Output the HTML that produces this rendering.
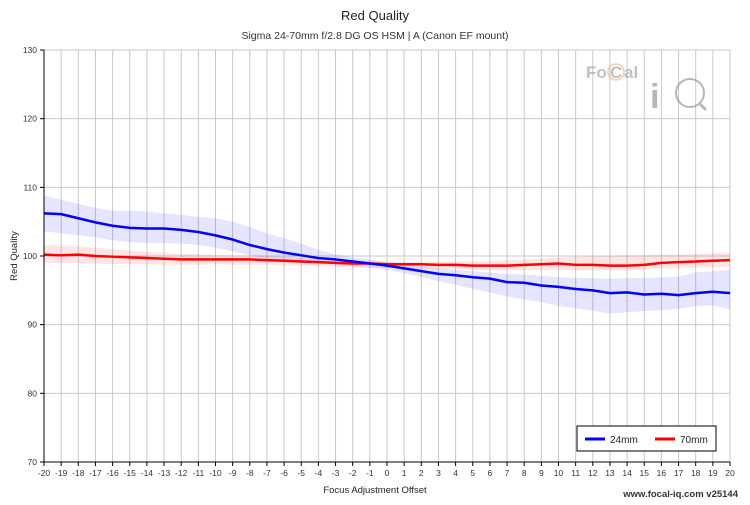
<!DOCTYPE html>
<html><head><meta charset="utf-8"><style>
body{margin:0;background:#fff;font-family:"Liberation Sans",sans-serif}
svg text{font-family:"Liberation Sans",sans-serif}
</style></head><body>
<svg id="c" width="750" height="500">
<text x="375" y="20" text-anchor="middle" font-size="13" fill="#222">Red Quality</text>
<text x="375" y="39" text-anchor="middle" font-size="10.5" fill="#333">Sigma 24-70mm f/2.8 DG OS HSM | A (Canon EF mount)</text>
<g id="grid"></g><g id="bands"></g><g id="lines"></g><g id="axes"></g>
<g opacity="0.6">
<text x="586" y="78" font-size="17" font-weight="bold" fill="#999">Fo</text>
<circle cx="616" cy="72" r="8" fill="none" stroke="#e8b070" stroke-width="1.5"/>
<text x="610" y="78" font-size="17" font-weight="bold" fill="#999">C</text>
<text x="624" y="78" font-size="17" font-weight="bold" fill="#999">al</text>
<text x="650" y="108" font-size="34" font-weight="bold" fill="#888">i</text>
<circle cx="690" cy="93" r="14" fill="none" stroke="#888" stroke-width="2"/>
<line x1="700" y1="104" x2="706" y2="110" stroke="#888" stroke-width="3"/>
</g>
<text x="375" y="493" text-anchor="middle" font-size="9.5" fill="#222">Focus Adjustment Offset</text>
<text transform="translate(17,256) rotate(-90)" text-anchor="middle" font-size="9.5" fill="#222">Red Quality</text>
<text x="738" y="497" text-anchor="end" font-size="9.5" font-weight="bold" fill="#333">www.focal-iq.com  v25144</text>
<g>
<rect x="577" y="426" width="139" height="25" fill="#fff" stroke="#000" stroke-width="1"/>
<g><line x1="585" y1="439" x2="605" y2="439" stroke="#0000ff" stroke-width="3"/><text x="610" y="443" font-size="10" fill="#222">24mm</text></g>
<g><line x1="655" y1="439" x2="675" y2="439" stroke="#ff0000" stroke-width="3"/><text x="680" y="443" font-size="10" fill="#222">70mm</text></g>
</g>
</svg>
<script>
const xTicks=[-20,-19,-18,-17,-16,-15,-14,-13,-12,-11,-10,-9,-8,-7,-6,-5,-4,-3,-2,-1,0,1,2,3,4,5,6,7,8,9,10,11,12,13,14,15,16,17,18,19,20];
const yTicks=[70,80,90,100,110,120,130];
const s24=[106.2,106.1,105.5,104.9,104.4,104.1,104.0,104.0,103.8,103.5,103.0,102.4,101.6,101.0,100.5,100.1,99.7,99.5,99.2,98.9,98.6,98.2,97.8,97.4,97.2,96.9,96.7,96.2,96.1,95.7,95.5,95.2,95.0,94.6,94.7,94.4,94.5,94.3,94.6,94.8,94.6];
const s24hi=[108.8,108.2,107.6,107.0,106.6,106.6,106.5,106.2,106.0,105.7,105.5,105.0,104.2,103.3,102.6,101.8,100.9,100.2,99.8,99.5,99.1,98.8,98.5,98.2,98.0,97.8,97.6,97.4,97.3,97.1,96.9,96.8,96.8,96.7,96.8,96.8,96.9,97.0,97.6,97.8,98.0];
const s24lo=[103.6,103.3,103.0,102.7,102.3,102.0,101.9,101.9,101.8,101.6,101.2,100.7,100.1,99.6,99.3,99.1,98.9,98.7,98.5,98.3,98.0,97.5,96.9,96.3,95.8,95.2,94.7,94.1,93.7,93.3,92.7,92.4,92.0,91.6,91.8,92.0,92.1,92.3,92.7,92.8,92.2];
const s70=[100.2,100.1,100.2,100.0,99.9,99.8,99.7,99.6,99.5,99.5,99.5,99.5,99.5,99.4,99.3,99.2,99.1,99.0,98.9,98.9,98.8,98.8,98.8,98.7,98.7,98.6,98.6,98.6,98.7,98.8,98.9,98.7,98.7,98.6,98.6,98.7,99.0,99.1,99.2,99.3,99.4];
const s70hi=[101.6,101.5,101.4,101.2,101.0,100.8,100.6,100.5,100.3,100.3,100.2,100.1,100.1,100.0,99.9,99.7,99.6,99.5,99.4,99.3,99.2,99.2,99.2,99.2,99.2,99.2,99.3,99.4,99.5,99.6,99.8,99.9,100.0,100.0,100.1,100.1,100.2,100.2,100.3,100.4,100.5];
const s70lo=[99.0,98.9,99.0,98.9,98.8,98.8,98.8,98.7,98.7,98.7,98.8,98.7,98.7,98.7,98.6,98.6,98.5,98.4,98.3,98.3,98.2,98.2,98.2,98.1,98.1,98.0,97.9,97.9,97.9,98.0,98.0,97.9,97.9,97.9,97.9,98.0,98.2,98.2,98.3,98.3,98.4];
const NS="http://www.w3.org/2000/svg";
const L=44,R=730,T=50,B=462;
const xs=v=>L+(v+20)/40*(R-L);
const ys=v=>B-(v-70)/60*(B-T);
function mk(tag,p,attrs){const e=document.createElementNS(NS,tag);for(const k in attrs)e.setAttribute(k,attrs[k]);document.getElementById(p).appendChild(e);return e;}
xTicks.forEach(t=>{const e=mk('line','grid',{x1:xs(t),x2:xs(t),y1:T,y2:B,stroke:'#c8c8c8','stroke-width':1});


const k=mk('line','axes',{x1:xs(t),x2:xs(t),y1:B,y2:B+4,stroke:'#000'});


const l=mk('text','axes',{x:xs(t),y:B+14,'text-anchor':'middle','font-size':8.5,fill:'#333'});l.textContent=t;

});
yTicks.forEach(t=>{const e=mk('line','grid',{x1:L,x2:R,y1:ys(t),y2:ys(t),stroke:'#c8c8c8','stroke-width':1});


const k=mk('line','axes',{x1:L-4,x2:L,y1:ys(t),y2:ys(t),stroke:'#000'});


const l=mk('text','axes',{x:L-7,y:ys(t)+3,'text-anchor':'end','font-size':8.5,fill:'#333'});l.textContent=t;

});
const ax=mk('path','axes',{d:`M${L},${T}V${B}H${R}`,fill:'none',stroke:'#000','stroke-width':1});


function band(lo,hi,col,name){const pts=xTicks.map((x,i)=>xs(x)+','+ys(hi[i])).concat(xTicks.map((x,i)=>xs(x)+','+ys(lo[i])).reverse());
const e=mk('polygon','bands',{points:pts.join(' '),fill:col});

}
band(s24lo,s24hi,'rgba(0,0,255,0.1)','band-24mm');
band(s70lo,s70hi,'rgba(255,0,0,0.1)','band-70mm');
function line(v,col,name){const e=mk('polyline','lines',{points:xTicks.map((x,i)=>xs(x)+','+ys(v[i])).join(' '),fill:'none',stroke:col,'stroke-width':2.5,'stroke-linejoin':'round'});

}
line(s70,'#ff0000','line-70mm');
line(s24,'#0000ff','line-24mm');
</script>
</body></html>
